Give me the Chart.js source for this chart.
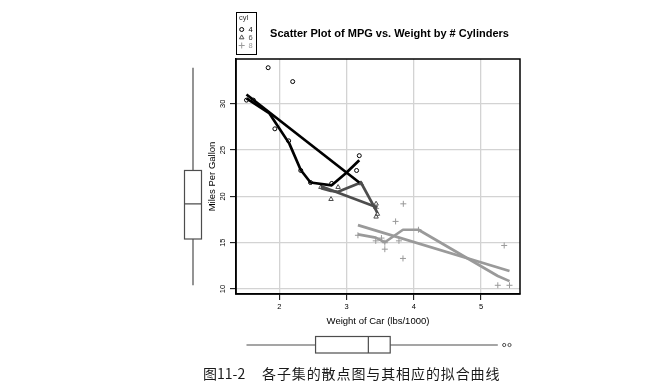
<!DOCTYPE html>
<html><head><meta charset="utf-8">
<script src="https://cdn.jsdelivr.net/npm/chart.js@4.4.1/dist/chart.umd.min.js"></script>
<style>
html,body{margin:0;padding:0;background:#fff;}
#wrap{position:relative;width:655px;height:388px;overflow:hidden;background:#fff;}
#c{position:absolute;left:0;top:0;}
.cap{position:absolute;top:365px;font-family:"Noto Sans CJK SC",sans-serif;font-size:14px;line-height:16px;color:#1a1a1a;white-space:nowrap;}
</style></head><body>
<div id="wrap"><canvas id="c" width="655" height="388"></canvas>
<div class="cap" style="left:203px">图11-2</div>
<div class="cap" style="left:262px;letter-spacing:0.9px">各子集的散点图与其相应的拟合曲线</div>
</div>
<script>
// ---- data (mtcars) ----
const wt4  = [2.32, 3.19, 3.15, 2.2, 1.615, 1.835, 2.465, 1.935, 2.14, 1.513, 2.78];
const mpg4 = [22.8, 24.4, 22.8, 32.4, 30.4, 33.9, 21.5, 27.3, 26.0, 30.4, 21.4];
const wt6  = [2.62, 2.875, 3.215, 3.46, 3.44, 3.44, 2.77];
const mpg6 = [21.0, 21.0, 21.4, 18.1, 19.2, 17.8, 19.7];
const wt8  = [3.44, 3.57, 4.07, 3.73, 3.78, 5.25, 5.424, 5.345, 3.52, 3.435, 3.84, 3.845, 3.17, 3.57];
const mpg8 = [18.7, 14.3, 16.4, 17.3, 15.2, 10.4, 10.4, 14.7, 15.5, 15.2, 13.3, 19.2, 15.8, 15.0];

// straight fitted lines (end points)
const fit4X = [1.513, 3.19],  fit4Y = [31.0, 21.5];
const fit6X = [2.62, 3.46],   fit6Y = [21.1, 18.8];
const fit8X = [3.17, 5.424],  fit8Y = [16.9, 11.95];

// smooth curves (vertices)
const smooth4X = [1.513, 1.85, 1.95, 2.15, 2.32, 2.465, 2.78, 2.99, 3.19];
const smooth4Y = [30.6, 29.0, 27.9, 25.7, 22.85, 21.5, 21.2, 22.5, 23.9];
const smooth6X = [2.62, 2.77, 2.875, 3.215, 3.44, 3.46];
const smooth6Y = [20.9, 20.6, 20.5, 21.5, 18.5, 18.2];
const smooth8X = [3.17, 3.435, 3.57, 3.84, 4.07, 5.25, 5.424];
const smooth8Y = [15.9, 15.55, 15.05, 16.4, 16.4, 11.4, 10.85];

// marginal boxplots: [min, q1, median, q3, max]
const mpgBox = [10.4, 15.4, 19.2, 22.8, 33.9];
const wtBox  = [1.513, 2.54, 3.325, 3.65, 5.25];
const wtOutliers = [5.345, 5.424];

const xTicks = [2, 3, 4, 5];
const yTicks = [10, 15, 20, 25, 30];
const cylLabels = ['4', '6', '8'];
const titleText = 'Scatter Plot of MPG vs. Weight by # Cylinders';
const xTitle = 'Weight of Car (lbs/1000)';
const yTitle = 'Miles Per Gallon';

const C4 = '#000000', C6 = '#4d4d4d', C8 = '#9a9a9a';
const FONT = "'Liberation Sans', Arial, Helvetica, sans-serif";
Chart.defaults.font.family = FONT;
Chart.defaults.color = '#000';

const toXY = (xs, ys) => xs.map((x, i) => ({x: x, y: ys[i]}));
const lineDs = (xs, ys, col) => ({data: toXY(xs, ys), showLine: true, borderColor: col, borderWidth: 2.7,
  pointRadius: 0, fill: false, tension: 0, borderCapStyle: 'butt', borderJoinStyle: 'round'});
const ptDs = (xs, ys, col, style, r) => ({data: toXY(xs, ys), showLine: false, pointStyle: style,
  pointRadius: r, pointBorderColor: col, pointBackgroundColor: 'rgba(0,0,0,0)', pointBorderWidth: 1,
  borderColor: col, backgroundColor: 'rgba(0,0,0,0)'});

const extras = {
  id: 'extras',
  afterDatasetsDraw(chart) {
    const ctx = chart.ctx, a = chart.chartArea;
    ctx.save();
    ctx.strokeStyle = '#000'; ctx.lineWidth = 1.5;
    ctx.strokeRect(a.left, a.top, a.right - a.left, a.bottom - a.top);
    ctx.restore();
  },
  afterDraw(chart) {
    const ctx = chart.ctx, xs = chart.scales.x, ys = chart.scales.y;
    ctx.save();
    // title
    ctx.fillStyle = '#000';
    ctx.font = 'bold 11px ' + FONT;
    ctx.textAlign = 'center'; ctx.textBaseline = 'middle';
    ctx.fillText(titleText, 389.5, 34);
    // legend
    ctx.strokeStyle = '#000'; ctx.lineWidth = 1;
    ctx.strokeRect(236.5, 12.5, 20, 42);
    ctx.font = '7.5px ' + FONT;
    ctx.fillStyle = '#333';
    ctx.fillText('cyl', 243.5, 17.5);
    const cols = [C4, C6, C8], styles = ['circle', 'triangle', 'cross'], rads = [2, 2.6, 3];
    const rowY = [29.5, 37.5, 45.5];
    for (let i = 0; i < 3; i++) {
      ctx.strokeStyle = cols[i]; ctx.fillStyle = 'rgba(0,0,0,0)'; ctx.lineWidth = 1;
      Chart.helpers.drawPoint(ctx, {pointStyle: styles[i], radius: rads[i], borderWidth: 1, rotation: 0}, 241.7, rowY[i]);
      ctx.fillStyle = cols[i];
      ctx.fillText(cylLabels[i], 250.5, rowY[i]);
    }
    // left boxplot (mpg) on the y scale
    const Y = v => ys.getPixelForValue(v);
    ctx.strokeStyle = '#4d4d4d'; ctx.lineWidth = 1.2;
    const bx0 = 184.5, bx1 = 201.5, bxc = 193;
    ctx.beginPath();
    ctx.moveTo(bxc, Y(mpgBox[4])); ctx.lineTo(bxc, Y(mpgBox[3]));
    ctx.moveTo(bxc, Y(mpgBox[1])); ctx.lineTo(bxc, Y(mpgBox[0]));
    ctx.moveTo(bx0, Y(mpgBox[2])); ctx.lineTo(bx1, Y(mpgBox[2]));
    ctx.stroke();
    ctx.strokeRect(bx0, Y(mpgBox[3]), bx1 - bx0, Y(mpgBox[1]) - Y(mpgBox[3]));
    // bottom boxplot (wt) on the x scale
    const X = v => xs.getPixelForValue(v);
    const by0 = 336.5, by1 = 353, byc = 345;
    ctx.beginPath();
    ctx.moveTo(X(wtBox[0]), byc); ctx.lineTo(X(wtBox[1]), byc);
    ctx.moveTo(X(wtBox[3]), byc); ctx.lineTo(X(wtBox[4]), byc);
    ctx.moveTo(X(wtBox[2]), by0); ctx.lineTo(X(wtBox[2]), by1);
    ctx.stroke();
    ctx.strokeRect(X(wtBox[1]), by0, X(wtBox[3]) - X(wtBox[1]), by1 - by0);
    ctx.lineWidth = 1;
    wtOutliers.forEach(v => { ctx.beginPath(); ctx.arc(X(v), byc, 1.6, 0, Math.PI * 2); ctx.stroke(); });
    ctx.restore();
  }
};

new Chart(document.getElementById('c'), {
  type: 'scatter',
  data: {datasets: [
    ptDs(wt4, mpg4, C4, 'circle', 2),
    lineDs(fit4X, fit4Y, C4),
    lineDs(smooth4X, smooth4Y, C4),
    ptDs(wt6, mpg6, C6, 'triangle', 2.6),
    lineDs(fit6X, fit6Y, C6),
    lineDs(smooth6X, smooth6Y, C6),
    ptDs(wt8, mpg8, C8, 'cross', 3),
    lineDs(fit8X, fit8Y, C8),
    lineDs(smooth8X, smooth8Y, C8)
  ]},
  options: {
    responsive: false, animation: false, devicePixelRatio: 1,
    layout: {padding: {left: 200, right: 135, top: 59, bottom: 58}},
    plugins: {legend: {display: false}, tooltip: {enabled: false}, title: {display: false}},
    scales: {
      x: {
        type: 'linear', position: 'bottom', min: 1.357, max: 5.58,
        afterBuildTicks: s => { s.ticks = xTicks.map(v => ({value: v})); },
        afterFit: s => { s.height = 36; },
        grid: {color: '#d3d3d3', lineWidth: 1.3, tickColor: '#000', tickLength: 6, tickWidth: 1},
        border: {color: '#000', width: 1.5},
        ticks: {font: {size: 7.5}, color: '#000', padding: 2, maxRotation: 0, autoSkip: false},
        title: {display: true, text: xTitle, font: {size: 9.5}, color: '#000', padding: {top: 0, bottom: 2.5}}
      },
      y: {
        type: 'linear', position: 'left', min: 9.46, max: 34.84,
        afterBuildTicks: s => { s.ticks = yTicks.map(v => ({value: v})); },
        afterFit: s => { s.width = 36; },
        grid: {color: '#d3d3d3', lineWidth: 1.3, tickColor: '#000', tickLength: 6, tickWidth: 1},
        border: {color: '#000', width: 1.5},
        ticks: {font: {size: 7.5}, color: '#000', padding: 3, minRotation: 90, maxRotation: 90, crossAlign: 'center', autoSkip: false},
        title: {display: true, text: yTitle, font: {size: 9.5}, color: '#000', padding: {top: 6.3, bottom: 0}}
      }
    }
  },
  plugins: [extras]
});
</script>
</body></html>
